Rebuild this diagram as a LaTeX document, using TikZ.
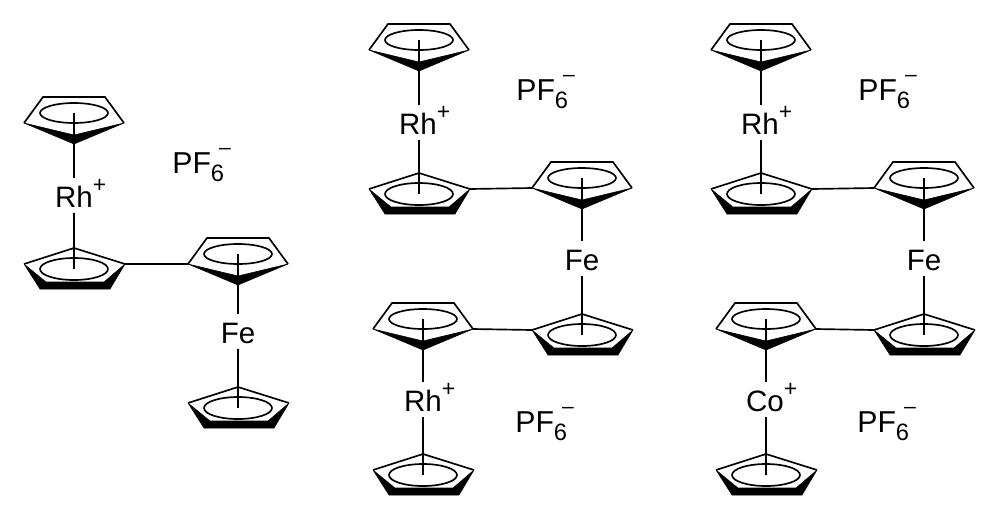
\documentclass[tikz,border=0pt]{standalone}
\usepackage{fontspec}
\setmainfont{Liberation Sans}
\newcommand\cpdown[3]{%
  \begin{scope}[shift={(#2,#3)}]
    \coordinate (#1-l) at (-50,0);
    \coordinate (#1-r) at (50,0);
    \coordinate (#1-a) at (0,21);
    \coordinate (#1-c) at (0,-10);
    \draw[thinring] (#1-l) -- (-31,-26) -- (31,-26) -- (#1-r);
    \fill[boldring] (#1-l) -- (#1-a) -- (#1-r) -- (0,12) -- cycle;
    \draw[thinring] (#1-c) ellipse [x radius=34, y radius=10];
  \end{scope}}
\newcommand\cpup[3]{%
  \begin{scope}[shift={(#2,#3)}]
    \coordinate (#1-l) at (-50,0);
    \coordinate (#1-r) at (51,0);
    \coordinate (#1-a) at (0,-16);
    \coordinate (#1-c) at (0,5);
    \draw[thinring] (#1-l) -- (#1-a) -- (#1-r);
    \fill[boldring] (#1-l) -- (-34,25) -- (36,25) -- (#1-r) -- (30,18) -- (-28,18) -- cycle;
    \draw[thinring] (#1-c) ellipse [x radius=34, y radius=11];
  \end{scope}}
\newcommand\cat[1]{#1\rlap{\raisebox{0.48em}{\fontsize{13pt}{13pt}\selectfont +}}}
\newcommand\pfsix{PF\rlap{\raisebox{-0.27em}{\fontsize{13.5pt}{13.5pt}\selectfont 6}}\raisebox{0.62em}{\hspace{0.27em}\fontsize{12pt}{12pt}\selectfont –}}
\begin{document}
\begin{tikzpicture}[x=0.02cm,y=-0.02cm,
  thinring/.style={draw=black,line width=0.95pt,line join=miter},
  boldring/.style={fill=black,draw=black,line width=0.3pt,line join=round},
  bond/.style={draw=black,line width=0.95pt},
  metal/.style={inner sep=0pt,anchor=base,font=\fontsize{16.8pt}{16.8pt}\selectfont,text height=0.58cm,text depth=0.12cm},
  salt/.style={inner sep=0pt,anchor=base west,font=\fontsize{17.2pt}{17.2pt}\selectfont}]
\useasboundingbox (0,0) rectangle (1002,512);
\fill[white] (0,0) rectangle (1002,512);
% molecule 1
\cpdown{a1}{74}{123}
\cpup{a2}{74}{264}
\cpdown{a3}{238}{264}
\cpup{a4}{238}{403}
\node[metal] (arh) at (74,207) {\cat{Rh}};
\node[metal] (afe) at (238,343) {Fe};
\node[salt] (apf) at (172,173) {\pfsix};
\draw[bond] (a1-c) -- (arh.north);
\draw[bond] (arh.south) -- (a2-c);
\draw[bond] (a2-r) -- (a3-l);
\draw[bond] (a3-c) -- (afe.north);
\draw[bond] (afe.south) -- (a4-c);
% molecule 2
\cpdown{b1}{419}{50}
\cpup{b2}{419}{189}
\cpdown{b3}{582}{188}
\cpup{b4}{582}{330}
\cpdown{b5}{423}{329}
\cpup{b6}{423}{470}
\node[metal] (brh) at (418,134) {\cat{Rh}};
\node[metal] (bfe) at (582,270) {Fe};
\node[metal] (brh2) at (423,411) {\cat{Rh}};
\node[salt] (bpf) at (516,100) {\pfsix};
\node[salt] (bpf2) at (515,432) {\pfsix};
\draw[bond] (b1-c) -- (b1-c |- brh.north);
\draw[bond] (b2-c |- brh.south) -- (b2-c);
\draw[bond] (b2-r) -- (b3-l);
\draw[bond] (b3-c) -- (bfe.north);
\draw[bond] (bfe.south) -- (b4-c);
\draw[bond] (b5-r) -- (b4-l);
\draw[bond] (b5-c) -- (brh2.north);
\draw[bond] (brh2.south) -- (b6-c);
% molecule 3
\cpdown{c1}{761}{50}
\cpup{c2}{761}{189}
\cpdown{c3}{924}{188}
\cpup{c4}{924}{330}
\cpdown{c5}{766}{329}
\cpup{c6}{766}{470}
\node[metal] (crh) at (760,134) {\cat{Rh}};
\node[metal] (cfe) at (924,270) {Fe};
\node[metal] (cco) at (765,411) {\cat{Co}};
\node[salt] (cpf) at (858,100) {\pfsix};
\node[salt] (cpf2) at (857,432) {\pfsix};
\draw[bond] (c1-c) -- (c1-c |- crh.north);
\draw[bond] (c2-c |- crh.south) -- (c2-c);
\draw[bond] (c2-r) -- (c3-l);
\draw[bond] (c3-c) -- (cfe.north);
\draw[bond] (cfe.south) -- (c4-c);
\draw[bond] (c5-r) -- (c4-l);
\draw[bond] (c5-c) -- (c5-c |- cco.north);
\draw[bond] (c6-c |- cco.south) -- (c6-c);
\end{tikzpicture}
\end{document}
